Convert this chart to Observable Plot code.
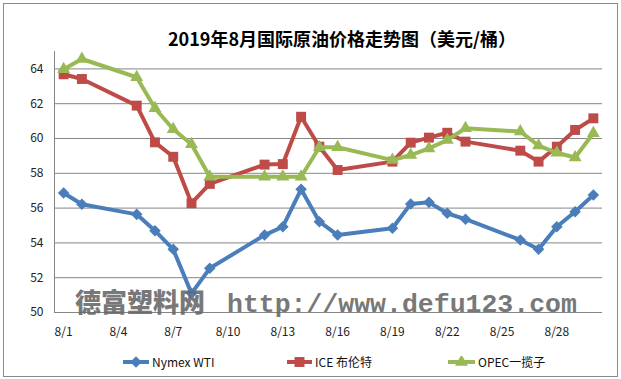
<!DOCTYPE html>
<html><head><meta charset="utf-8">
<script src="https://cdn.jsdelivr.net/npm/d3@7"></script>
<script src="https://cdn.jsdelivr.net/npm/@observablehq/plot@0.6"></script>
<style>
body{margin:0;background:#fff;}
#wrap{position:relative;width:621px;height:379px;overflow:hidden;font-family:"Noto Sans CJK SC","Noto Sans",sans-serif;background:#fff;}
#frame{position:absolute;left:3px;top:3px;width:615px;height:374px;border:1px solid #8a8a8a;box-sizing:border-box;}
#title{position:absolute;left:92px;width:500px;top:27px;text-align:center;font-size:18px;font-weight:bold;line-height:22px;color:#000;}
#chart{position:absolute;left:0;top:0;}
.leg{position:absolute;top:354px;height:16px;font-size:12px;line-height:16px;color:#111;white-space:nowrap;}
.leg svg{position:absolute;top:2px;}
#wm{position:absolute;left:0;top:0;pointer-events:none;}
</style>
</head><body>
<div id="wrap">
<div id="frame"></div>
<div id="chart"></div>
<div id="title">2019年8月国际原油价格走势图（美元/桶）</div>
<div id="legend"></div>
<svg id="wm" width="621" height="379"></svg>
</div>
<script>
const days = [1,2,5,6,7,8,9,12,13,14,15,16,19,20,21,22,23,26,27,28,29,30];
const wti = [56.87,56.22,55.64,54.70,53.63,51.10,52.54,54.45,54.93,57.08,55.22,54.45,54.84,56.24,56.33,55.70,55.36,54.17,53.63,54.93,55.79,56.75];
const brent = [63.69,63.42,61.89,59.78,58.95,56.28,57.39,58.50,58.53,61.25,59.53,58.19,58.67,59.76,60.05,60.33,59.82,59.30,58.67,59.53,60.49,61.16];
const opec = [63.98,64.57,63.52,61.74,60.53,59.67,57.80,57.80,57.80,57.80,59.50,59.50,58.76,59.05,59.43,59.91,60.59,60.40,59.59,59.18,58.91,60.30];
const seriesNames = ["Nymex WTI","ICE 布伦特","OPEC一揽子"];
const seriesColors = ["#4A7EBB","#BE4B48","#98B954"];
const seriesSymbols = ["diamond2","square","triangle"];
const seriesR = [5.2,5.6,4.8];
const xTicks = [1,4,7,10,13,16,19,22,25,28];
const yTicks = [50,52,54,56,58,60,62,64];
const titleText = "2019年8月国际原油价格走势图（美元/桶）";
const watermarkCJK = "德富塑料网";
const watermarkURL = "http://www.defu123.com";

const allSeries = [wti, brent, opec].map((vals, i) =>
  days.map((d, j) => ({day: d, v: vals[j], name: seriesNames[i]})));

const marks = [
  Plot.gridY(yTicks.filter(t => t > 50), {stroke:"#868686", strokeOpacity:1, strokeWidth:1}),
  Plot.ruleY([50], {stroke:"#868686", strokeWidth:1}),
  Plot.ruleX([0.5], {stroke:"#868686", strokeWidth:1}),
  Plot.axisY(yTicks, {tickSize:0, tickPadding:11, label:null, tickFormat:d => String(d)}),
  Plot.axisX(xTicks, {tickSize:0, tickPadding:15, label:null, tickFormat:d => `8/${d}`})
];
allSeries.forEach((data, i) => {
  marks.push(Plot.line(data, {x:"day", y:"v", stroke:seriesColors[i], strokeWidth:4, strokeLinejoin:"round"}));
  marks.push(Plot.dot(data, {x:"day", y:"v", symbol:seriesSymbols[i], fill:seriesColors[i], r:seriesR[i]}));
});

const chart = Plot.plot({
  width:621, height:379,
  marginLeft:54, marginRight:19, marginTop:51, marginBottom:67,
  x:{domain:[0.5,30.5]},
  y:{domain:[50,65]},
  style:{fontSize:"12px", fontFamily:'"Noto Sans CJK SC","Noto Sans",sans-serif', color:"#222", background:"transparent"},
  marks
});
document.getElementById("chart").appendChild(chart);

// legend
const legendPos = [[123,152],[287,315],[448,478]];
const legend = document.getElementById("legend");
seriesNames.forEach((name, i) => {
  const [lx, tx] = legendPos[i];
  const w = tx - lx - 3;
  const div = document.createElement("div");
  div.className = "leg";
  div.style.left = lx + "px";
  const sym = {diamond2:d3.symbolDiamond2, square:d3.symbolSquare, triangle:d3.symbolTriangle}[seriesSymbols[i]];
  const r = seriesR[i];
  const path = d3.symbol(sym, Math.PI*r*r)();
  div.innerHTML = `<svg width="${w}" height="12" style="left:0"><line x1="0" x2="${w}" y1="6" y2="6" stroke="${seriesColors[i]}" stroke-width="4"/><path transform="translate(${w/2},6)" d="${path}" fill="${seriesColors[i]}"/></svg><span style="position:absolute;left:${tx-lx}px">${name}</span>`;
  legend.appendChild(div);
});

// watermark
const wm = d3.select("#wm");
wm.append("text").attr("x",75).attr("y",312).attr("font-size",26).attr("font-weight","900")
  .attr("font-family",'"Noto Sans CJK SC",sans-serif').attr("fill","#6a6a6a").attr("opacity",0.9).text(watermarkCJK);
wm.append("text").attr("x",227).attr("y",312).attr("font-size",26.5).attr("font-weight","bold")
  .attr("font-family",'"Liberation Mono",monospace').attr("fill","#6a6a6a").attr("opacity",0.9).text(watermarkURL);
</script>
</body></html>
